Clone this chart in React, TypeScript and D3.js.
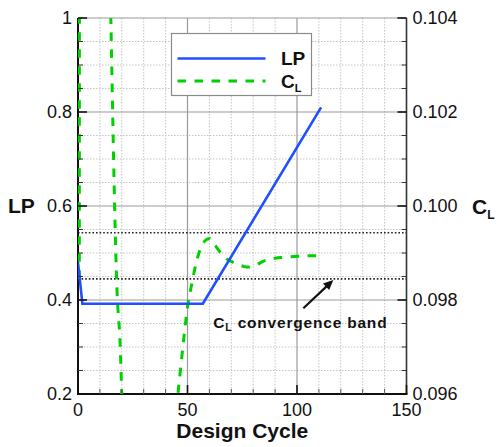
import React from "react";
import * as d3 from "d3";

// Design-cycle history of LP (left axis) and lift coefficient C_L (right axis)
const lpCycles = [0, 2, 57, 111];
const lpValues = [0.48, 0.392, 0.392, 0.81];

const clCycles = [
  0.6, 1, 14, 18, 19, 21, 44, 46, 48, 50, 52, 54, 56, 58, 60, 62, 64, 66, 68, 70,
  72, 74, 76, 78, 80, 82, 84, 86, 88, 90, 95, 100, 105, 110,
];
const clValues = [
  0.09845, 0.13, 0.1062, 0.098, 0.0973, 0.095, 0.0954, 0.09617, 0.09705,
  0.09785, 0.09835, 0.0988, 0.0991, 0.09926, 0.09931, 0.09921, 0.09907,
  0.09895, 0.09887, 0.09882, 0.09878, 0.09874, 0.09871, 0.0987, 0.09872,
  0.09876, 0.09881, 0.09885, 0.09887, 0.09889, 0.09891, 0.09893, 0.09894,
  0.09894,
];

// C_L convergence band (final C_L ± 0.5 %)
const bandLimits = [0.09845, 0.09943];

const xTicks = [0, 50, 100, 150];
const lpTicks = [0.2, 0.4, 0.6, 0.8, 1];
const clTicks = [0.096, 0.098, 0.1, 0.102, 0.104];
const clTickLabels = ["0.096", "0.098", "0.100", "0.102", "0.104"];
const lpTickLabels = ["0.2", "0.4", "0.6", "0.8", "1"];

const W = 497;
const H = 447;
const L = 78;
const R = 406.5;
const T = 18;
const B = 394;

const FONT = "'Liberation Sans', Arial, Helvetica, sans-serif";
const BLUE = "#1f4fff";
const GREEN = "#00d000";

export default function App() {
  const x = d3.scaleLinear().domain([0, 150]).range([L, R]);
  const yLP = d3.scaleLinear().domain([0.2, 1]).range([B, T]);
  const yCL = d3.scaleLinear().domain([0.096, 0.104]).range([B, T]);

  const lpLine = d3
    .line<number>()
    .x((_, i) => x(lpCycles[i]))
    .y((d) => yLP(d));
  const clLine = d3
    .line<number>()
    .x((_, i) => x(clCycles[i]))
    .y((d) => yCL(d))
    .curve(d3.curveMonotoneX);

  const minorX = d3.range(10, 150, 10).filter((v) => v % 50 !== 0);
  const minorY = d3.range(0.25, 1.0, 0.05).filter((v) => Math.abs(v * 5 - Math.round(v * 5)) > 1e-6);

  // annotation anchor points in data space
  const arrowTail = { c: 102.9, cl: 0.097824 };
  const arrowHead = { c: 116.6, cl: 0.098426 };
  const ax1 = x(arrowTail.c);
  const ay1 = yCL(arrowTail.cl);
  const ax2 = x(arrowHead.c);
  const ay2 = yCL(arrowHead.cl);
  const ang = Math.atan2(ay2 - ay1, ax2 - ax1);
  const hl = 10;
  const hw = 4.5;
  const headPts = [
    [ax2, ay2],
    [ax2 - hl * Math.cos(ang) + hw * Math.sin(ang), ay2 - hl * Math.sin(ang) - hw * Math.cos(ang)],
    [ax2 - hl * Math.cos(ang) - hw * Math.sin(ang), ay2 - hl * Math.sin(ang) + hw * Math.cos(ang)],
  ]
    .map((p) => p.join(","))
    .join(" ");

  return (
    <svg
      width={W}
      height={H}
      style={{ position: "absolute", left: 0, top: 0, background: "#fff" }}
      fontFamily={FONT}
    >
      <defs>
        <clipPath id="plot-clip">
          <rect x={L} y={T} width={R - L} height={B - T} />
        </clipPath>
      </defs>

      {/* minor grid */}
      {minorX.map((v) => (
        <line key={"mx" + v} x1={x(v)} x2={x(v)} y1={T} y2={B} stroke="#c4c4c4" strokeWidth={1} strokeDasharray="1.5 1.5" />
      ))}
      {minorY.map((v) => (
        <line key={"my" + v} x1={L} x2={R} y1={yLP(v)} y2={yLP(v)} stroke="#c4c4c4" strokeWidth={1} strokeDasharray="1.5 1.5" />
      ))}
      {/* major grid */}
      {[50, 100].map((v) => (
        <line key={"gx" + v} x1={x(v)} x2={x(v)} y1={T} y2={B} stroke="#9a9a9a" strokeWidth={1.2} />
      ))}
      {[0.4, 0.6, 0.8, 1].map((v) => (
        <line key={"gy" + v} x1={L} x2={R} y1={yLP(v)} y2={yLP(v)} stroke="#9a9a9a" strokeWidth={1.2} />
      ))}

      {/* convergence band */}
      {bandLimits.map((v) => (
        <line key={"band" + v} x1={L} x2={R} y1={yCL(v)} y2={yCL(v)} stroke="#222" strokeWidth={1.6} strokeDasharray="1.6 2" />
      ))}

      {/* axes frame */}
      <line x1={L} x2={L} y1={T} y2={B + 1} stroke="#111" strokeWidth={2} />
      <line x1={L - 1} x2={R + 1} y1={B} y2={B} stroke="#111" strokeWidth={2} />
      <line x1={R} x2={R} y1={T} y2={B} stroke="#333" strokeWidth={1.6} />

      {/* data lines */}
      <g clipPath="url(#plot-clip)">
        <path d={clLine(clValues) || ""} fill="none" stroke={GREEN} strokeWidth={3} strokeDasharray="8.5 8.5" />
        <path d={lpLine(lpValues) || ""} fill="none" stroke={BLUE} strokeWidth={2.6} />
      </g>

      {/* ticks */}
      {lpTicks.map((v) => (
        <line key={"lt" + v} x1={L} x2={L + 9} y1={yLP(v)} y2={yLP(v)} stroke="#111" strokeWidth={1.6} />
      ))}
      {minorY.map((v) => (
        <line key={"lmt" + v} x1={L} x2={L + 5} y1={yLP(v)} y2={yLP(v)} stroke="#333" strokeWidth={1} />
      ))}
      {clTicks.map((v) => (
        <line key={"rt" + v} x1={R - 9} x2={R} y1={yCL(v)} y2={yCL(v)} stroke="#111" strokeWidth={1.6} />
      ))}
      {minorY.map((v) => (
        <line key={"rmt" + v} x1={R - 5} x2={R} y1={yLP(v)} y2={yLP(v)} stroke="#333" strokeWidth={1} />
      ))}
      {xTicks.map((v) => (
        <line key={"bt" + v} x1={x(v)} x2={x(v)} y1={B} y2={B - 9} stroke="#111" strokeWidth={1.6} />
      ))}
      {minorX.map((v) => (
        <line key={"bmt" + v} x1={x(v)} x2={x(v)} y1={B} y2={B - 5} stroke="#555" strokeWidth={1} />
      ))}

      {/* tick labels */}
      {lpTicks.map((v, i) => (
        <text key={"ll" + v} x={L - 6} y={yLP(v)} dy="0.36em" textAnchor="end" fontSize={18} fill="#111">
          {lpTickLabels[i]}
        </text>
      ))}
      {clTicks.map((v, i) => (
        <text key={"rl" + v} x={R + 6} y={yCL(v)} dy="0.36em" textAnchor="start" fontSize={18} fill="#111">
          {clTickLabels[i]}
        </text>
      ))}
      {xTicks.map((v) => (
        <text key={"bl" + v} x={x(v)} y={B + 22} textAnchor="middle" fontSize={18} fill="#111">
          {v}
        </text>
      ))}

      {/* axis titles */}
      <text x={8} y={yLP(0.6) + 7} fontSize={21} fontWeight="bold" fill="#111">
        LP
      </text>
      <text x={472} y={yCL(0.1) + 8} fontSize={21} fontWeight="bold" fill="#111">
        C<tspan fontSize={12} dy={5}>L</tspan>
      </text>
      <text x={(L + R) / 2} y={B + 44} textAnchor="middle" fontSize={21} fontWeight="bold" fill="#111">
        Design Cycle
      </text>

      {/* legend */}
      <rect x={171.5} y={33.5} width={140} height={62} fill="#fff" stroke="#8a8a8a" strokeWidth={1.2} />
      <line x1={177.5} x2={265.5} y1={58.5} y2={58.5} stroke={BLUE} strokeWidth={2.6} />
      <line x1={177.5} x2={265.5} y1={81} y2={81} stroke={GREEN} strokeWidth={3} strokeDasharray="8.5 8.5" />
      <text x={281} y={64.5} fontSize={19} fontWeight="bold" fill="#111">
        LP
      </text>
      <text x={281} y={87.5} fontSize={19} fontWeight="bold" fill="#111">
        C<tspan fontSize={11} dy={4}>L</tspan>
      </text>

      {/* band annotation */}
      <line x1={ax1} y1={ay1} x2={ax2 - 6 * Math.cos(ang)} y2={ay2 - 6 * Math.sin(ang)} stroke="#111" strokeWidth={2.2} />
      <polygon points={headPts} fill="#111" />
      <text x={x(61.8)} y={yCL(0.097404)} fontSize={15.5} fontWeight="bold" fill="#111" letterSpacing={0.8}>
        C<tspan fontSize={10.5} dy={3}>L</tspan>
        <tspan dy={-3}> convergence band</tspan>
      </text>
    </svg>
  );
}
